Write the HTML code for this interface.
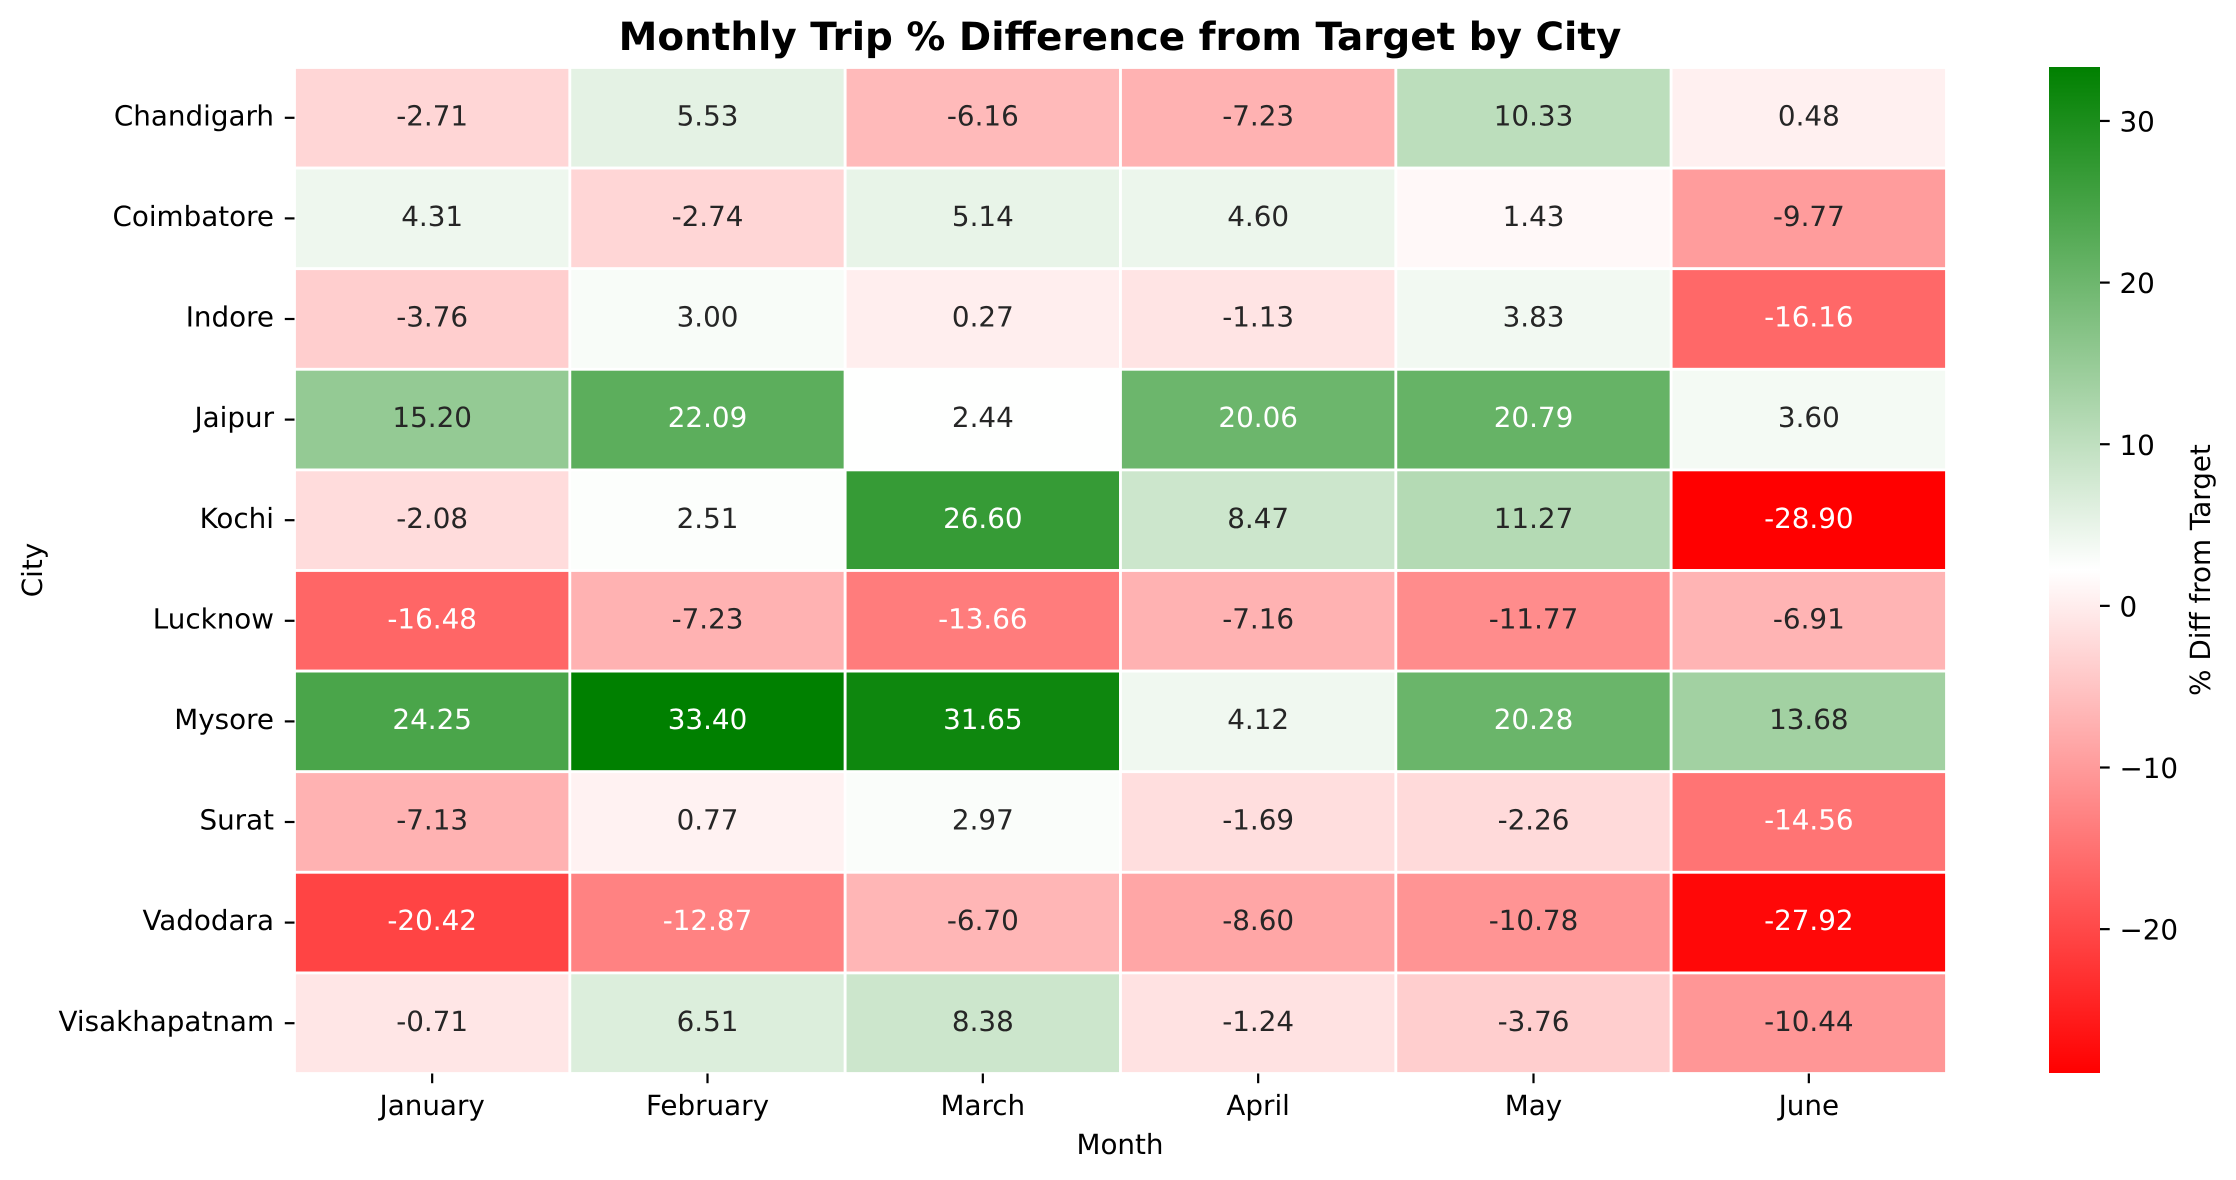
<!DOCTYPE html>
<html lang="en">
<head>
<meta charset="utf-8">
<title>Monthly Trip % Difference from Target by City</title>
<style>
html,body{margin:0;padding:0;background:#fff;width:2236px;height:1180px;overflow:hidden}
svg{display:block}
text{font-family:"DejaVu Sans","Liberation Sans",sans-serif;font-size:27.78px;fill:#000;text-rendering:geometricPrecision}
</style>
</head>
<body>
<svg id="chart" xmlns="http://www.w3.org/2000/svg" width="2236" height="1180" viewBox="0 0 2236 1180">
  <rect x="0" y="0" width="2236" height="1180" fill="#ffffff"/>
  <text x="1120" y="50" text-anchor="middle" style="font-size:38.9px;font-weight:bold">Monthly Trip % Difference from Target by City</text>
  <g id="cells"></g>
  <g id="xaxis"></g>
  <g id="yaxis"></g>
  <text x="1120" y="1154" text-anchor="middle">Month</text>
  <text x="42" y="570" text-anchor="middle" transform="rotate(-90 42 570)">City</text>
  <g id="colorbar"></g>
  <text x="2210" y="570" text-anchor="middle" transform="rotate(-90 2210 570)">% Diff from Target</text>
</svg>
<script>
const cities = ["Chandigarh","Coimbatore","Indore","Jaipur","Kochi","Lucknow","Mysore","Surat","Vadodara","Visakhapatnam"];
const months = ["January","February","March","April","May","June"];
const chandigarh = [-2.71,5.53,-6.16,-7.23,10.33,0.48];
const coimbatore = [4.31,-2.74,5.14,4.60,1.43,-9.77];
const indore = [-3.76,3.00,0.27,-1.13,3.83,-16.16];
const jaipur = [15.20,22.09,2.44,20.06,20.79,3.60];
const kochi = [-2.08,2.51,26.60,8.47,11.27,-28.90];
const lucknow = [-16.48,-7.23,-13.66,-7.16,-11.77,-6.91];
const mysore = [24.25,33.40,31.65,4.12,20.28,13.68];
const surat = [-7.13,0.77,2.97,-1.69,-2.26,-14.56];
const vadodara = [-20.42,-12.87,-6.70,-8.60,-10.78,-27.92];
const visakhapatnam = [-0.71,6.51,8.38,-1.24,-3.76,-10.44];
const cityValues = [chandigarh,coimbatore,indore,jaipur,kochi,lucknow,mysore,surat,vadodara,visakhapatnam];
const colorbarTicks = [30,20,10,0,-10,-20];

const NS = "http://www.w3.org/2000/svg";
const plot = {left:294.5, right:1946.5, top:67.5, bottom:1073.5};
const bar = {left:2049, right:2100, top:66, bottom:1073};
const allValues = cityValues.flat();
const vmin = Math.min(...allValues);
const vmax = Math.max(...allValues);

function xBand(i){ return plot.left + i*(plot.right-plot.left)/months.length; }
function yBand(i){ return plot.top + i*(plot.bottom-plot.top)/cities.length; }
function colorbarY(v){ return bar.top + (vmax-v)/(vmax-vmin)*(bar.bottom-bar.top); }

function colorRgb(v){
  let t = (v-vmin)/(vmax-vmin);
  let idx = Math.min(255, Math.max(0, Math.floor(t*256)));
  t = idx/255;
  if(t < 0.5){
    const k = t*2;
    return [255, 255*k, 255*k];
  }
  const k = (t-0.5)*2;
  return [255*(1-k), 255-127*k, 255*(1-k)];
}
function rgbCss(c){ return "rgb("+c.map(Math.round).join(",")+")"; }
function textColorFor(c){
  const lin = c.map(function(x){
    const s = x/255;
    return s <= 0.03928 ? s/12.92 : Math.pow((s+0.055)/1.055, 2.4);
  });
  const lum = 0.2126*lin[0] + 0.7152*lin[1] + 0.0722*lin[2];
  return lum > 0.408 ? "#262626" : "#ffffff";
}
function make(tag, attrs, parent){
  const el = document.createElementNS(NS, tag);
  for(const k in attrs){ el.setAttribute(k, attrs[k]); }
  parent.appendChild(el);
  return el;
}
function slug(s){ return s.toLowerCase(); }

const cellsG = document.getElementById("cells");
const xG = document.getElementById("xaxis");
const yG = document.getElementById("yaxis");
const cbG = document.getElementById("colorbar");

cities.forEach(function(city, r){
  months.forEach(function(month, c){
    const v = cityValues[r][c];
    const rgb = colorRgb(v);
    const x0 = xBand(c), x1 = xBand(c+1), y0 = yBand(r), y1 = yBand(r+1);
    const cell = make("rect", {x:x0, y:y0, width:x1-x0, height:y1-y0, fill:rgbCss(rgb), stroke:"#ffffff", "stroke-width":2.8}, cellsG);
    
    
    const label = make("text", {x:(x0+x1)/2, y:(y0+y1)/2+7.6, "text-anchor":"middle"}, cellsG);
    label.style.fill = textColorFor(rgb);
    label.textContent = v.toFixed(2);
    
    
  });
});

months.forEach(function(month, c){
  const cx = (xBand(c)+xBand(c+1))/2;
  const tick = make("line", {x1:cx, x2:cx, y1:plot.bottom, y2:plot.bottom+9.7, stroke:"#000", "stroke-width":2.2}, xG);
  
  
  const label = make("text", {x:cx, y:1115, "text-anchor":"middle"}, xG);
  label.textContent = month;
  
  
});

cities.forEach(function(city, r){
  const cy = (yBand(r)+yBand(r+1))/2;
  const tick = make("line", {x1:plot.left-9.7, x2:plot.left, y1:cy, y2:cy, stroke:"#000", "stroke-width":2.2}, yG);
  
  
  const label = make("text", {x:plot.left-20.5, y:cy+7.6, "text-anchor":"end"}, yG);
  label.textContent = city;
  
  
});

const defs = make("defs", {}, cbG);
const grad = make("linearGradient", {id:"cbGrad", x1:"0", y1:"0", x2:"0", y2:"1"}, defs);
make("stop", {offset:"0", "stop-color":rgbCss(colorRgb(vmax))}, grad);
make("stop", {offset:"0.5", "stop-color":"#ffffff"}, grad);
make("stop", {offset:"1", "stop-color":rgbCss(colorRgb(vmin))}, grad);
const ramp = make("rect", {x:bar.left, y:bar.top+1, width:bar.right-bar.left, height:bar.bottom-bar.top-1, fill:"url(#cbGrad)"}, cbG);



colorbarTicks.forEach(function(v){
  const y = colorbarY(v);
  const tick = make("line", {x1:bar.right, x2:bar.right+9.7, y1:y, y2:y, stroke:"#000", "stroke-width":2.2}, cbG);
  
  
  const label = make("text", {x:bar.right+19.5, y:y+10.6}, cbG);
  label.textContent = String(v).replace("-", "\u2212");
  
  
});
</script>
</body>
</html>
